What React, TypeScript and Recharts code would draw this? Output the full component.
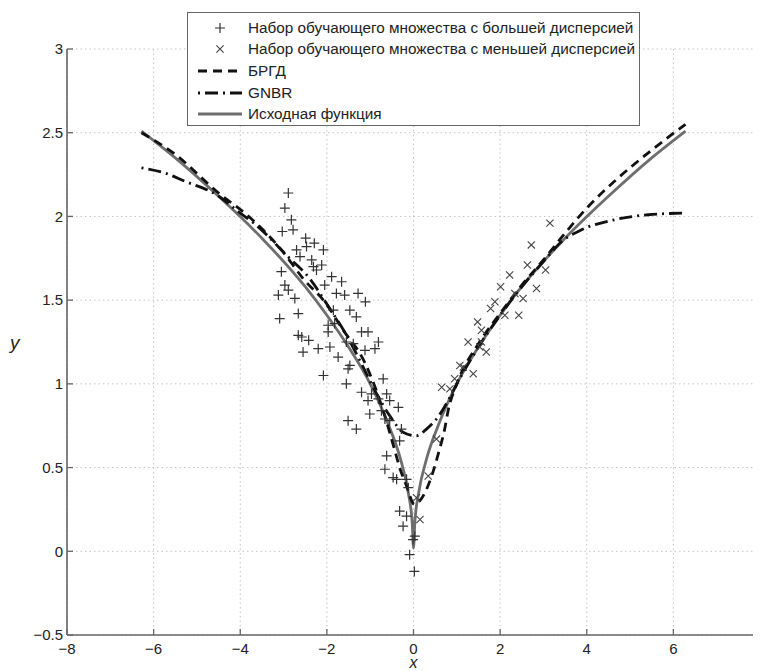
import { CartesianGrid, ComposedChart, Line, Scatter, XAxis, YAxis } from "recharts";

const FONT = "'Liberation Sans', Arial, sans-serif";
const INK = "#222";
const AXIS_COL = "#666";
const GRID = "#c4c4c4";
const GRAY = "#6e6e6e";

const X_TICKS = [-8, -6, -4, -2, 0, 2, 4, 6, 8];
const Y_TICKS = [-0.5, 0, 0.5, 1, 1.5, 2, 2.5, 3];

// набор с большей дисперсией (+)
const bigX = [
  -2.89, -2.97, -2.82, -2.78, -3.03, -2.49, -2.29, -2.47, -2.08, -2.7, -2.62, -2.35, -2.31, -2.12, -2.24, -3.05,
  -1.89, -1.66, -2.05, -2.97, -2.89, -3.12, -2.74, -1.78, -1.59, -1.28, -1.11, -1.85, -1.47, -2.66, -3.09, -1.32,
  -1.97, -1.82, -1.2, -1.05, -1.97, -2.66, -2.58, -2.42, -0.81, -1.55, -1.39, -0.89, -1.93, -2.2, -1.12, -2.55,
  -1.74, -1.47, -2.08, -1.51, -1.55, -1.2, -1.05, -1.01, -1.51, -1.32, -0.97, -0.81, -0.55, -0.35, -0.74, -0.66,
  -0.55, -0.32, -0.62, -0.66, -0.47, -0.39, -0.16, -0.12, -0.32, -0.16, -0.24, -0.01, -0.09, 0.02, -0.7, -0.62,
  -0.28, 0.03,
];
const bigY = [
  2.14, 2.05, 1.98, 1.92, 1.91, 1.87, 1.84, 1.82, 1.8, 1.8, 1.76, 1.74, 1.7, 1.71, 1.68, 1.67,
  1.64, 1.61, 1.59, 1.59, 1.56, 1.53, 1.51, 1.54, 1.53, 1.54, 1.49, 1.44, 1.44, 1.42, 1.39, 1.4,
  1.35, 1.36, 1.31, 1.31, 1.31, 1.29, 1.28, 1.26, 1.25, 1.25, 1.24, 1.21, 1.22, 1.21, 1.2, 1.19,
  1.16, 1.11, 1.05, 1.09, 1.0, 0.95, 0.9, 0.82, 0.78, 0.73, 0.94, 0.91, 0.9, 0.86, 0.84, 0.79,
  0.78, 0.66, 0.57, 0.49, 0.44, 0.43, 0.43, 0.38, 0.24, 0.21, 0.15, 0.07, -0.02, -0.12, 1.03, 0.94,
  0.73, 0.09,
];

// набор с меньшей дисперсией (×)
const smallX = [
  3.15, 2.72, 2.63, 3.05, 2.22, 2.01, 2.84, 1.88, 2.34, 1.78, 2.53, 2.11, 2.43, 1.48, 1.57,
  1.26, 1.68, 1.53, 1.57, 1.07, 1.38, 1.15, 0.95, 0.65, 0.84, 0.53, 0.34, 0.15, 0.07,
];
const smallY = [
  1.96, 1.83, 1.71, 1.68, 1.65, 1.58, 1.57, 1.49, 1.54, 1.45, 1.51, 1.41, 1.41, 1.37, 1.32,
  1.25, 1.19, 1.22, 1.25, 1.11, 1.06, 1.1, 1.03, 0.98, 0.97, 0.67, 0.45, 0.19, 0.32,
];

// исходная функция
const srcX = [-6.28, -5.5, -4.5, -3.5, -2.5, -2, -1.5, -1, -0.6, -0.3, -0.12, -0.03, 0, 0.03, 0.12, 0.3, 0.6, 1, 1.5, 2, 2.5, 3.5, 4.5, 5.5, 6.28];
const srcY = [2.51, 2.35, 2.12, 1.87, 1.58, 1.41, 1.22, 1.0, 0.77, 0.55, 0.35, 0.17, 0.02, 0.17, 0.35, 0.55, 0.77, 1.0, 1.22, 1.41, 1.58, 1.87, 2.12, 2.35, 2.51];

// БРГД
const brgdX = [-6.28, -5.5, -4.5, -3.85, -3.05, -2.52, -2.05, -1.62, -1.13, -0.7, -0.44, -0.32, -0.16, 0.02, 0.14, 0.42, 0.58, 0.72, 0.8, 1, 1.5, 2, 2.5, 3, 3.5, 4, 4.64, 5.42, 6.28];
const brgdY = [2.5, 2.37, 2.14, 2.01, 1.8, 1.62, 1.49, 1.32, 1.13, 0.84, 0.61, 0.5, 0.39, 0.28, 0.3, 0.45, 0.59, 0.73, 0.84, 1.0, 1.24, 1.42, 1.59, 1.74, 1.9, 2.05, 2.21, 2.38, 2.55];

// GNBR
const gnbrX = [-6.28, -5.75, -5.28, -4.55, -4, -3.69, -2.86, -2.4, -1.96, -1.59, -1.2, -0.85, -0.55, -0.23, 0.07, 0.3, 0.53, 0.8, 1, 1.5, 2, 2.5, 3, 3.42, 3.88, 4.64, 5.42, 6.28];
const gnbrY = [2.29, 2.26, 2.21, 2.13, 2.02, 1.96, 1.75, 1.63, 1.46, 1.31, 1.12, 0.94, 0.81, 0.71, 0.69, 0.73, 0.79, 0.9, 1.0, 1.22, 1.41, 1.58, 1.73, 1.85, 1.92, 1.98, 2.01, 2.02];

const zip = (xs: number[], ys: number[]) => xs.map((x, i) => ({ x, y: ys[i] }));

const bigData = zip(bigX, bigY);
const smallData = zip(smallX, smallY);
const srcData = zip(srcX, srcY);
const brgdData = zip(brgdX, brgdY);
const gnbrData = zip(gnbrX, gnbrY);

const fmt = (v: number) => String(v).replace("-", "\u2212");

function XTick(props: any) {
  const { x, y, payload } = props;
  const axisY = y - 8;
  return (
    <g>
      <line x1={x} x2={x} y1={axisY} y2={axisY - 6} stroke={AXIS_COL} strokeWidth={1.3} />
      <text x={x} y={y} dy="0.71em" textAnchor="middle" fontFamily={FONT} fontSize={15} fill={INK}>
        {fmt(payload.value)}
      </text>
    </g>
  );
}

function YTick(props: any) {
  const { x, y, payload } = props;
  const axisX = x + 4;
  return (
    <g>
      <line x1={axisX} x2={axisX + 6} y1={y} y2={y} stroke={AXIS_COL} strokeWidth={1.3} />
      <text x={x} y={y} dy="0.355em" textAnchor="end" fontFamily={FONT} fontSize={15} fill={INK}>
        {fmt(payload.value)}
      </text>
    </g>
  );
}

function Plus(props: any) {
  const { cx, cy } = props;
  if (cx == null || cy == null) return null;
  const r = 5;
  return (
    <path d={`M${cx - r},${cy}H${cx + r}M${cx},${cy - r}V${cy + r}`} stroke="#333" strokeWidth={1.2} fill="none" />
  );
}

function Cross(props: any) {
  const { cx, cy } = props;
  if (cx == null || cy == null) return null;
  const r = 3.6;
  return (
    <path
      d={`M${cx - r},${cy - r}L${cx + r},${cy + r}M${cx - r},${cy + r}L${cx + r},${cy - r}`}
      stroke="#444"
      strokeWidth={1.1}
      fill="none"
    />
  );
}

const legendRows = [
  { label: "Набор обучающего множества с большей дисперсией", kind: "plus" },
  { label: "Набор обучающего множества с меньшей дисперсией", kind: "cross" },
  { label: "БРГД", kind: "dash" },
  { label: "GNBR", kind: "dashdot" },
  { label: "Исходная функция", kind: "solid" },
];

function Swatch({ kind }: { kind: string }) {
  return (
    <svg width={46} height={12} style={{ display: "block" }}>
      {kind === "plus" && <Plus cx={23} cy={6} />}
      {kind === "cross" && <Cross cx={23} cy={6} />}
      {kind === "dash" && <line x1={1} x2={45} y1={6} y2={6} stroke="#111" strokeWidth={2.8} strokeDasharray="9 6" />}
      {kind === "dashdot" && (
        <line x1={1} x2={45} y1={6} y2={6} stroke="#111" strokeWidth={2.8} strokeDasharray="2 5 13 5" />
      )}
      {kind === "solid" && <line x1={1} x2={45} y1={6} y2={6} stroke={GRAY} strokeWidth={2.8} />}
    </svg>
  );
}

export default function App() {
  return (
    <div style={{ position: "relative", width: 753, height: 663, background: "#fff" }}>
      <ComposedChart width={753} height={663} margin={{ top: 41, right: 1, bottom: 0, left: 0 }}>
        <CartesianGrid stroke={GRID} strokeDasharray="1.5 3" />
        <XAxis
          type="number"
          dataKey="x"
          domain={[-8, 8]}
          ticks={X_TICKS}
          interval={0}
          height={36}
          tickSize={0}
          tickMargin={8}
          tick={<XTick />}
          axisLine={{ stroke: AXIS_COL, strokeWidth: 1.6 }}
          allowDataOverflow
          label={{ value: "x", position: "insideBottom", offset: 3, fontFamily: FONT, fontSize: 16, fontStyle: "italic", fill: INK }}
        />
        <YAxis
          type="number"
          dataKey="y"
          domain={[-0.5, 3]}
          ticks={Y_TICKS}
          interval={0}
          width={59}
          tickSize={0}
          tickMargin={4}
          tick={<YTick />}
          axisLine={{ stroke: AXIS_COL, strokeWidth: 1.6 }}
          allowDataOverflow
          label={{ value: "y", position: "insideLeft", offset: 2, fontFamily: FONT, fontSize: 19, fontStyle: "italic", fill: INK }}
        />
        <Scatter name="big" data={bigData} dataKey="y" shape={<Plus />} isAnimationActive={false} />
        <Scatter name="small" data={smallData} dataKey="y" shape={<Cross />} isAnimationActive={false} />
        <Line
          data={srcData}
          dataKey="y"
          type="monotone"
          stroke={GRAY}
          strokeWidth={2.8}
          dot={false}
          activeDot={false}
          isAnimationActive={false}
        />
        <Line
          data={brgdData}
          dataKey="y"
          type="monotone"
          stroke="#111"
          strokeWidth={2.8}
          strokeDasharray="9 6"
          dot={false}
          activeDot={false}
          isAnimationActive={false}
        />
        <Line
          data={gnbrData}
          dataKey="y"
          type="monotone"
          stroke="#111"
          strokeWidth={2.8}
          strokeDasharray="2 5 13 5"
          dot={false}
          activeDot={false}
          isAnimationActive={false}
        />
      </ComposedChart>
      <div
        style={{
          position: "absolute",
          left: 179,
          top: 4,
          width: 453,
          height: 114,
          boxSizing: "border-box",
          border: "1.5px solid #666",
          background: "#fff",
          fontFamily: FONT,
          fontSize: 15.3,
          color: INK,
          padding: "4px 0 0 9px",
        }}
      >
        {legendRows.map((r) => (
          <div key={r.label} style={{ display: "flex", alignItems: "center", height: 21.6, whiteSpace: "nowrap" }}>
            <Swatch kind={r.kind} />
            <span style={{ marginLeft: 5 }}>{r.label}</span>
          </div>
        ))}
      </div>
    </div>
  );
}
